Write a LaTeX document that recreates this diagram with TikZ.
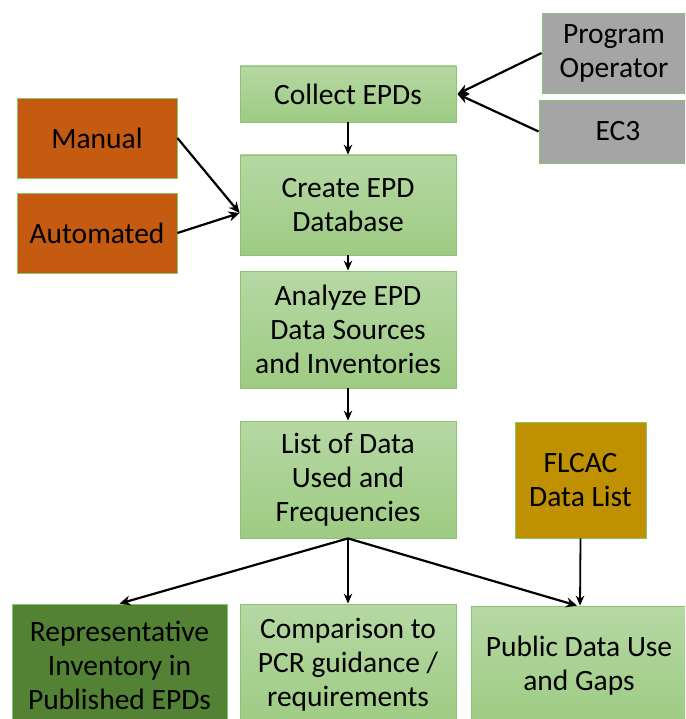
\documentclass[tikz,border=0pt]{standalone}
\usepackage{fontspec}
\setmainfont{Carlito}
\usetikzlibrary{arrows.meta}

\definecolor{boxline}{HTML}{8DC26F}
\definecolor{greentop}{HTML}{B6D8A4}
\definecolor{greenbot}{HTML}{9ECB83}
\definecolor{rust}{HTML}{C55A11}
\definecolor{greyfill}{HTML}{A5A5A5}
\definecolor{gold}{HTML}{BF9000}
\definecolor{darkgreen}{HTML}{548235}

\tikzset{
  base/.style={draw=boxline, line width=0.8pt, align=center, inner sep=2pt,
    font=\fontsize{29.5}{34}\selectfont, text=black},
  greenbox/.style={base, top color=greentop, bottom color=greenbot},
  rustbox/.style={base, fill=rust},
  greybox/.style={base, fill=greyfill},
  goldbox/.style={base, fill=gold},
  darkbox/.style={base, fill=darkgreen},
  flow/.style={-{Stealth[length=11pt,width=10pt]}, line width=2.2pt, black},
  down/.style={-{Stealth[length=10pt,width=8.5pt]}, line width=1.8pt, black},
}

\begin{document}
\begin{tikzpicture}[x=1pt,y=-1pt]
  \useasboundingbox (0,0) rectangle (685,719);
  \begin{scope}
  \clip (0,0) rectangle (685,719);

  % main column
  \node[greenbox, minimum width=216pt, minimum height=56pt] (collect) at (348,94) {Collect EPDs};
  \node[greenbox, minimum width=216pt, minimum height=100pt] (create) at (348,205) {Create EPD\\Database};
  \node[greenbox, minimum width=216pt, minimum height=117pt] (analyze) at (348,329.5) {Analyze EPD\\Data Sources\\and Inventories};
  \node[greenbox, minimum width=216pt, minimum height=117pt] (list) at (348,479.5) {List of Data\\Used and\\Frequencies};

  % sources
  \node[greybox, minimum width=144pt, minimum height=80pt] (progop) at (614,53) {Program\\Operator};
  \node[greybox, minimum width=158pt, minimum height=63pt] (ec3) at (618,131.5) {EC3};
  \node[rustbox, minimum width=160pt, minimum height=80pt] (manual) at (97,138) {Manual};
  \node[rustbox, minimum width=160pt, minimum height=80pt] (auto) at (97,233) {Automated};
  \node[goldbox, minimum width=131pt, minimum height=116pt] (flcac) at (580.5,480) {FLCAC\\Data List};

  % outputs
  \node[darkbox, minimum width=215pt, minimum height=122pt] (rep) at (119.5,665) {Representative\\Inventory in\\Published EPDs};
  \node[greenbox, minimum width=216pt, minimum height=122pt] (comp) at (348,665) {Comparison to\\PCR guidance /\\requirements};
  \node[greenbox, minimum width=216pt, minimum height=120pt] (public) at (579,666) {Public Data Use\\and Gaps};

  % connectors
  \coordinate (createin) at ([yshift=-8pt]create.west);
  \draw[flow] (progop.west) -- ([xshift=1pt]collect.east);
  \draw[flow] (ec3.west) -- ([xshift=1pt]collect.east);
  \draw[flow] (manual.east) -- (createin);
  \draw[flow] (auto.east) -- (createin);
  \draw[down] (collect.south) -- (create.north);
  \draw[down] (create.south) -- (analyze.north);
  \draw[down] (analyze.south) -- (list.north);
  \draw[flow] (list.south) -- (rep.north);
  \draw[down] (list.south) -- (comp.north);
  \draw[flow] (list.south) -- ([xshift=-2pt]public.north);
  \draw[down] (flcac.south) -- ([xshift=1pt]public.north);
  \end{scope}
\end{tikzpicture}
\end{document}
